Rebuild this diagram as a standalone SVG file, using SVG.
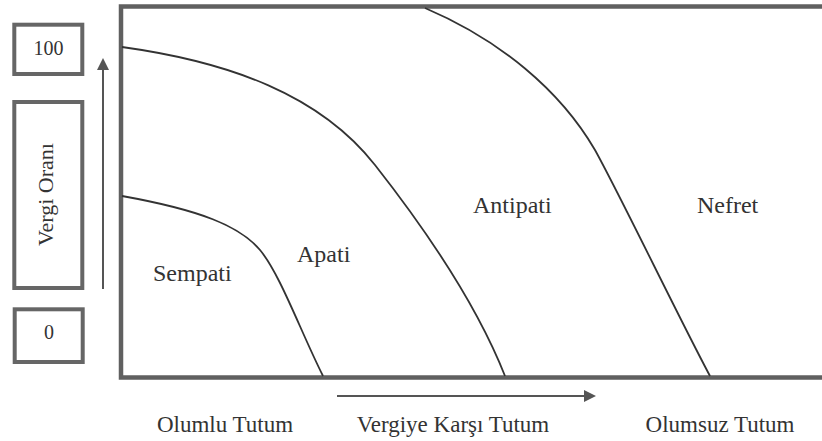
<svg xmlns="http://www.w3.org/2000/svg" width="822" height="441" viewBox="0 0 822 441">
<defs>
<style>
.box{fill:#fff;stroke:#666;stroke-width:4}
.frame{fill:none;stroke:#606060;stroke-width:4.5}
.curve{fill:none;stroke:#333;stroke-width:1.8}
.arrow{fill:none;stroke:#555;stroke-width:2}
text{fill:#333}
.lbl{font-size:24px}
.axis{font-size:23px;text-anchor:middle}
.num{font-size:20px;text-anchor:middle}
</style>
<marker id="ah" markerWidth="12" markerHeight="12" refX="10" refY="6" orient="auto" markerUnits="userSpaceOnUse">
<path d="M0,0 L12,6 L0,12 Z" fill="#555"/>
</marker>
</defs>
<rect width="822" height="441" fill="#fff"/>
<g font-family="Liberation Serif, Tinos, DejaVu Serif, serif">
<g id="box100"><rect class="box" x="14.3" y="24.7" width="68" height="49.3"/><text class="num" x="48.5" y="54.5">100</text></g>
<g id="boxVergi"><rect class="box" x="14.3" y="102" width="68" height="186"/><text class="num" font-size="22" style="font-size:22px" transform="translate(53,194.5) rotate(-90)">Vergi Oranı</text></g>
<g id="box0"><rect class="box" x="14.7" y="309.3" width="68" height="52.7"/><text class="num" x="49" y="338.5">0</text></g>
<g id="frame"><path class="frame" d="M830,6.5 H121 V377.5 H830"/></g>
<g id="connectors">
<path class="arrow" d="M103,289 V60" marker-end="url(#ah)"/>
<path class="arrow" d="M337,396 H594" marker-end="url(#ah)"/>
</g>
<g id="curves">
<path class="curve" d="M122,196 C200,210 240,226 260,250 C280,274 300,330 323,376"/>
<path class="curve" d="M122,47 C230,62 320,95 375,165 C419,221 475,300 505,376"/>
<path class="curve" d="M425,8 C500,40 560,90 595,150 C620,195 680,320 710,376"/>
</g>
<g id="labels">
<text class="lbl" x="153" y="281">Sempati</text>
<text class="lbl" x="297" y="262">Apati</text>
<text class="lbl" x="473" y="213">Antipati</text>
<text class="lbl" x="697" y="213">Nefret</text>
</g>
<g id="axisLabels">
<text class="axis" x="225" y="432">Olumlu Tutum</text>
<text class="axis" x="453" y="432">Vergiye Karşı Tutum</text>
<text class="axis" x="720" y="432">Olumsuz Tutum</text>
</g>
</g>
</svg>
